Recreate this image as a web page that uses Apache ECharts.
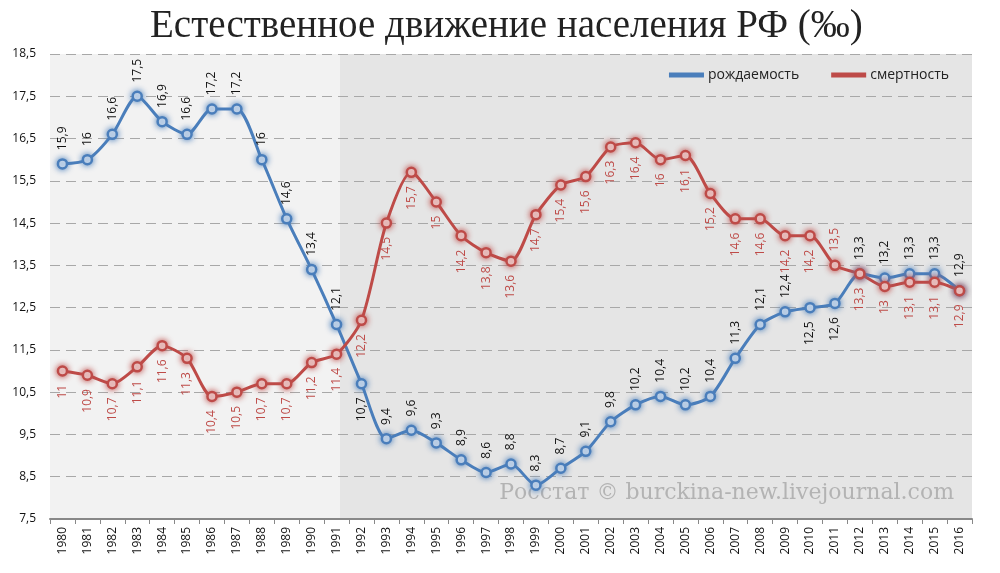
<!DOCTYPE html>
<html>
<head>
<meta charset="utf-8">
<script src="https://cdn.jsdelivr.net/npm/echarts@6/dist/echarts.min.js"></script>
<style>
  html, body { margin: 0; padding: 0; background: #fff; }
  #chart { width: 1000px; height: 573px; }
</style>
</head>
<body>
<div id="chart"></div>
<script>
// Естественное движение населения РФ, ‰ (Росстат)
const years = ['1980','1981','1982','1983','1984','1985','1986','1987','1988','1989',
  '1990','1991','1992','1993','1994','1995','1996','1997','1998','1999',
  '2000','2001','2002','2003','2004','2005','2006','2007','2008','2009',
  '2010','2011','2012','2013','2014','2015','2016'];
const birthRate = [15.9, 16, 16.6, 17.5, 16.9, 16.6, 17.2, 17.2, 16, 14.6,
  13.4, 12.1, 10.7, 9.4, 9.6, 9.3, 8.9, 8.6, 8.8, 8.3,
  8.7, 9.1, 9.8, 10.2, 10.4, 10.2, 10.4, 11.3, 12.1, 12.4,
  12.5, 12.6, 13.3, 13.2, 13.3, 13.3, 12.9];
const deathRate = [11, 10.9, 10.7, 11.1, 11.6, 11.3, 10.4, 10.5, 10.7, 10.7,
  11.2, 11.4, 12.2, 14.5, 15.7, 15, 14.2, 13.8, 13.6, 14.7,
  15.4, 15.6, 16.3, 16.4, 16, 16.1, 15.2, 14.6, 14.6, 14.2,
  14.2, 13.5, 13.3, 13, 13.1, 13.1, 12.9];

const BLUE = '#4a7ebb';
const RED = '#be4b48';
const FONT = '"Open Sans", "Noto Sans", sans-serif';

// подписи, которые стоят не на своей стороне линии
const birthBelow = ['1992', '2010', '2011'];
const deathAbove = ['2011'];

const fmt = v => String(v).replace('.', ',');

const labelUp = { position: 'top', align: 'left', verticalAlign: 'middle' };
const labelDown = { position: 'bottom', align: 'right', verticalAlign: 'middle' };

function buildData(values, flipYears, flipLabel) {
  return values.map((v, i) => flipYears.includes(years[i]) ? { value: v, label: flipLabel } : v);
}

function lineSeries(name, values, color, textColor, baseLabel, flipYears, flipLabel) {
  return {
    name: name,
    type: 'line',
    smooth: 0.25,
    data: buildData(values, flipYears, flipLabel),
    symbol: 'circle',
    symbolSize: 9,
    lineStyle: { color: color, width: 3 },
    itemStyle: {
      color: '#fff', borderColor: color, borderWidth: 2.5,
      shadowBlur: 6, shadowColor: color
    },
    label: Object.assign({
      show: true, rotate: 90, distance: 8,
      fontFamily: FONT, fontSize: 12, color: textColor,
      formatter: p => fmt(p.value)
    }, baseLabel),
    z: 3
  };
}

const dom = document.getElementById('chart');
const chart = echarts.init(dom);

const option = {
  animation: false,
  title: {
    text: 'Естественное движение населения РФ (‰)',
    left: 150, top: 7, padding: 0,
    textStyle: { fontFamily: '"Liberation Serif", serif', fontWeight: 'normal', fontSize: 39, color: '#222' }
  },
  legend: {
    right: 46, top: 63,
    itemWidth: 33, itemHeight: 3, itemGap: 32,
    icon: 'rect',
    textStyle: { fontFamily: FONT, fontSize: 14, color: '#222' },
    data: [
      { name: 'рождаемость', itemStyle: { color: BLUE } },
      { name: 'смертность', itemStyle: { color: RED } }
    ]
  },
  grid: {
    left: 50, right: 28, top: 54, bottom: 54,
    show: true, borderWidth: 0,
    backgroundColor: new echarts.graphic.LinearGradient(0, 0, 1, 0, [
      { offset: 0, color: '#f2f2f2' },
      { offset: 0.315, color: '#f2f2f2' },
      { offset: 0.315, color: '#e5e5e5' },
      { offset: 1, color: '#e5e5e5' }
    ])
  },
  xAxis: {
    type: 'category',
    data: years,
    boundaryGap: true,
    axisLine: { lineStyle: { color: '#888', width: 2 } },
    axisTick: { show: true, length: 5, lineStyle: { color: '#888' } },
    axisLabel: { rotate: 90, fontFamily: FONT, fontSize: 12, color: '#111', margin: 8 },
    splitLine: { show: false }
  },
  yAxis: {
    type: 'value',
    min: 7.5, max: 18.5, interval: 1,
    axisLine: { show: false },
    axisTick: { show: false },
    axisLabel: { fontFamily: FONT, fontSize: 12, color: '#111', margin: 14, formatter: v => fmt(v) },
    splitLine: { lineStyle: { color: '#a8a8a8', type: [10, 6], width: 1 } }
  },
  graphic: [{
    type: 'text',
    right: 46, top: 482,
    style: {
      text: 'Росстат © burckina-new.livejournal.com',
      fontFamily: '"DejaVu Serif", serif', fontSize: 22, fill: '#b3b3b3'
    },
    z: 1
  }],
  series: [
    lineSeries('рождаемость', birthRate, BLUE, '#111', labelUp, birthBelow, labelDown),
    lineSeries('смертность', deathRate, RED, RED, labelDown, deathAbove, labelUp)
  ]
};

chart.setOption(option);
</script>
</body>
</html>
